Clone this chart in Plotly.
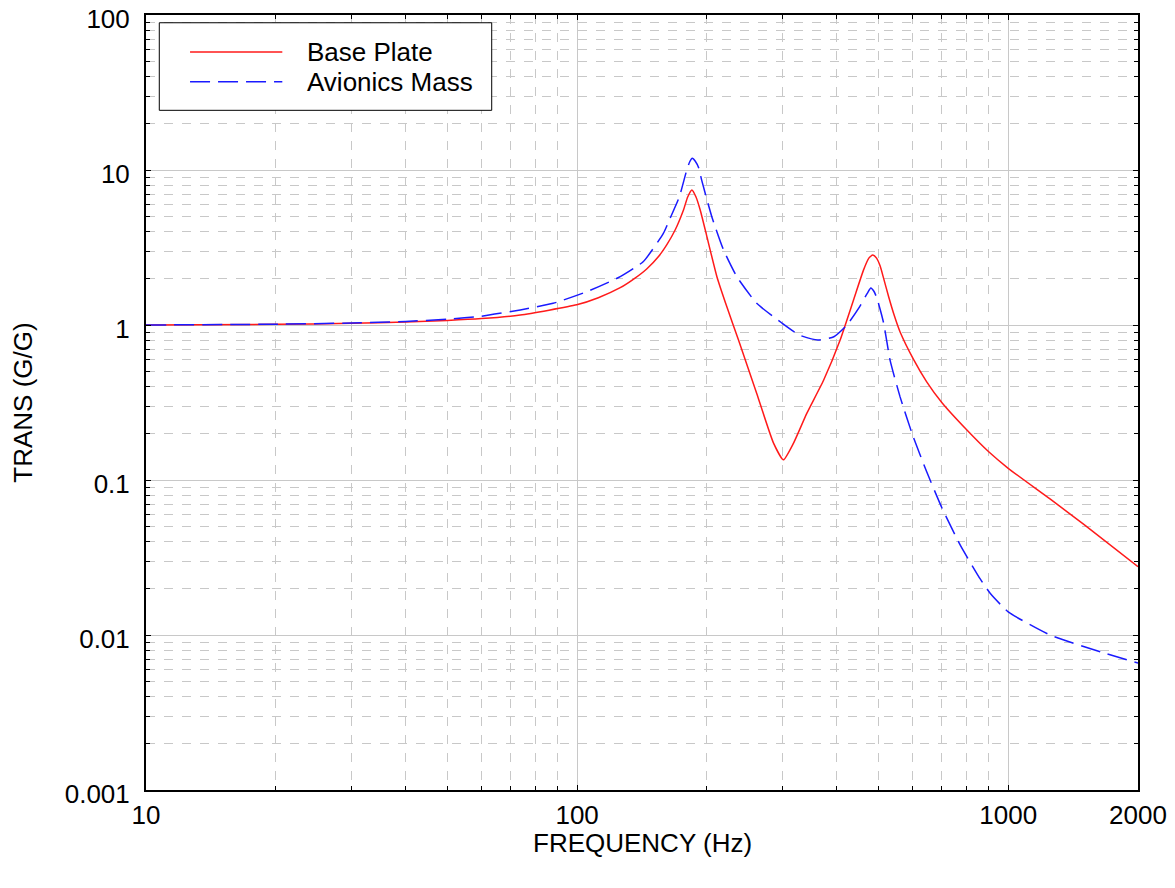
import plotly.graph_objects as go

# ── Transmissibility data ─────────────────────────────────────────
base_freq = [10, 20, 30, 40, 50, 60, 73.8, 99.8, 112, 125.9, 136, 145, 155, 161.5, 168.8,
             176.5, 180.5, 184.6, 188.7, 193, 200, 211, 222.5, 236.8, 261, 285.5, 301,
             317.7, 341, 373, 407.5, 437.7, 461.6, 475, 485, 495, 504.6, 514, 528, 542,
             561, 603, 647, 702, 802, 901, 1000, 1250, 1500, 2000]
base_trans = [1.0, 1.01, 1.025, 1.045, 1.07, 1.10, 1.16, 1.35, 1.50, 1.74, 2.0, 2.3, 2.8,
              3.3, 4.1, 5.52, 6.7, 7.43, 6.7, 5.52, 3.72, 2.05, 1.31, 0.80, 0.362, 0.173,
              0.135, 0.173, 0.269, 0.44, 0.80, 1.45, 2.26, 2.7, 2.83, 2.7, 2.4, 2.0,
              1.52, 1.19, 0.905, 0.60, 0.43, 0.315, 0.21, 0.152, 0.119, 0.0755, 0.0515,
              0.0276]

avi_freq = [10, 20, 30, 40, 50, 60, 73.8, 88, 105.3, 125.9, 142.5, 158.5, 163.6, 172.6,
            179.6, 182.5, 185, 188, 191.5, 194.5, 205.3, 218.6, 234.7, 261, 298.5, 328,
            362, 394, 422.6, 452, 471, 480, 488, 496, 514, 532, 561, 602, 647, 702, 774,
            861, 908, 1000, 1250, 1634, 2000]
avi_trans = [1.0, 1.012, 1.03, 1.055, 1.09, 1.14, 1.25, 1.38, 1.64, 2.05, 2.57, 3.9,
             4.75, 6.7, 10.0, 11.3, 11.9, 11.4, 10.3, 8.6, 5.0, 3.05, 2.05, 1.38, 1.03,
             0.86, 0.80, 0.84, 1.0, 1.31, 1.6, 1.73, 1.65, 1.49, 1.03, 0.594, 0.345,
             0.19, 0.113, 0.066, 0.038, 0.023, 0.0186, 0.0141, 0.0100, 0.0078, 0.0066]

x_ticks = [10, 100, 1000, 2000]
x_minor = [20, 30, 40, 50, 60, 70, 80, 90, 200, 300, 400, 500, 600, 700, 800, 900]
y_ticks = [0.001, 0.01, 0.1, 1, 10, 100]
y_labels = ["0.001", "0.01", "0.1", "1", "10", "100"]
y_minor = [m * 10 ** e for e in range(-3, 2) for m in range(2, 10)]

FONT = "Liberation Sans, Arial, sans-serif"
GRID = "#c8c8c8"
RED = "#ff1a1a"
BLUE = "#1a1aff"
DASH = "20px,8px"

fig = go.Figure()
fig.add_trace(go.Scatter(
    x=base_freq, y=base_trans, mode="lines", name="Base Plate",
    line=dict(color=RED, width=1.5, shape="spline", smoothing=0.5),
))
fig.add_trace(go.Scatter(
    x=avi_freq, y=avi_trans, mode="lines", name="Avionics Mass",
    line=dict(color=BLUE, width=1.5, dash=DASH, shape="spline", smoothing=0.5),
))

# ── Boxed legend in the upper-left corner (paper coordinates) ─────
fig.add_shape(type="rect", xref="paper", yref="paper",
              x0=0.0134, x1=0.3485, y0=0.877, y1=0.990,
              line=dict(color="black", width=1), fillcolor="white", layer="above")
for name, color, dash, yy in [("Base Plate", RED, "solid", 0.9523),
                              ("Avionics Mass", BLUE, DASH, 0.9140)]:
    fig.add_shape(type="line", xref="paper", yref="paper",
                  x0=0.0444, x1=0.1374, y0=yy, y1=yy,
                  line=dict(color=color, width=1.5, dash=dash), layer="above")
    fig.add_annotation(text=name, xref="paper", yref="paper", x=0.1603, y=yy,
                       xanchor="left", yanchor="middle", showarrow=False,
                       font=dict(size=26, color="black", family=FONT))

# x-axis title placed as text below the tick labels
fig.add_annotation(text="FREQUENCY (Hz)", xref="paper", yref="paper", x=0.5, y=-0.069,
                   xanchor="center", yanchor="middle", showarrow=False,
                   font=dict(size=26, color="black", family=FONT))

axis_common = dict(
    showline=True, linecolor="black", linewidth=2, mirror="allticks",
    ticks="inside", ticklen=5, tickcolor="black",
    showgrid=True, gridcolor=GRID, gridwidth=1,
    zeroline=False, automargin=False, ticklabeloverflow="allow",
    tickfont=dict(size=26, color="black", family=FONT),
)

# page body has an 8px margin, so the figure is sized to sit inside the window
fig.update_layout(
    width=1159, height=872,
    paper_bgcolor="white", plot_bgcolor="white",
    font=dict(family=FONT, color="black", size=26),
    margin=dict(l=138, r=29, t=7, b=90),
    showlegend=False,
    xaxis=dict(
        type="log", range=[1, 3.30103],
        tickmode="array", tickvals=x_ticks, ticktext=[str(v) for v in x_ticks],
        ticklabelstandoff=1,
        minor=dict(tickmode="array", tickvals=x_minor, ticks="inside", ticklen=4,
                   tickcolor="black", showgrid=True, gridcolor=GRID, griddash="dash"),
        **axis_common,
    ),
    yaxis=dict(
        type="log", range=[-3, 2],
        tickmode="array", tickvals=y_ticks, ticktext=y_labels,
        ticklabelstandoff=9, ticklabelshift=4,
        title=dict(text="TRANS (G/G)", font=dict(size=26), standoff=31),
        minor=dict(tickmode="array", tickvals=y_minor, ticks="inside", ticklen=4,
                   tickcolor="black", showgrid=True, gridcolor=GRID, griddash="dash"),
        **axis_common,
    ),
)

fig.write_html("out.html")
